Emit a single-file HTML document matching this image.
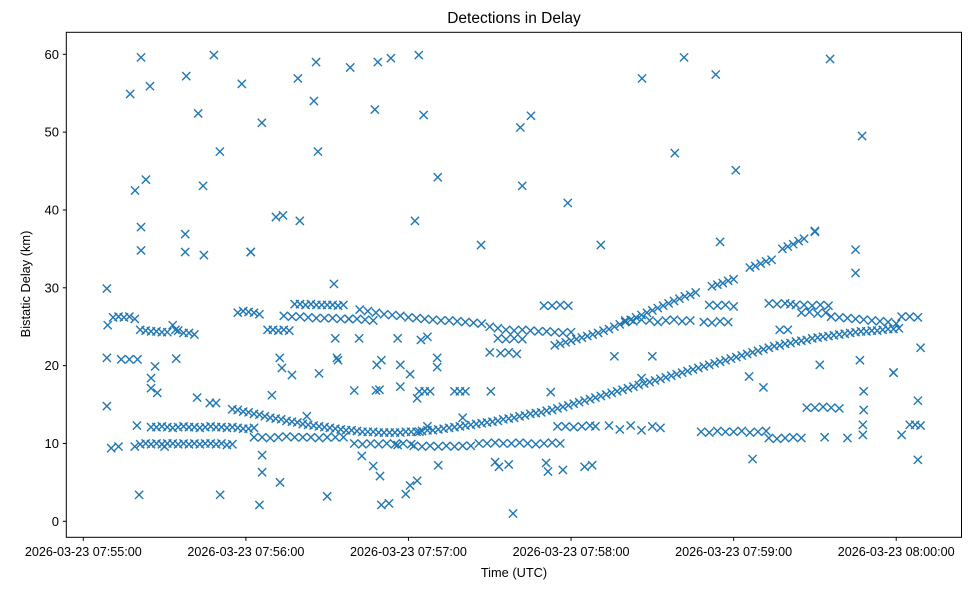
<!DOCTYPE html>
<html><head><meta charset="utf-8"><style>
body{margin:0;background:#fff;}
svg{display:block;font-family:"Liberation Sans","DejaVu Sans",sans-serif;}
</style></head><body>
<svg id="chart" width="978" height="590" viewBox="0 0 978 590" xmlns="http://www.w3.org/2000/svg">
<rect width="978" height="590" fill="#fff"/>
<text x="514" y="23" font-size="15.5" text-anchor="middle" fill="#000">Detections in Delay</text>
<text x="514" y="577" font-size="12.8" text-anchor="middle" fill="#000">Time (UTC)</text>
<text x="30" y="284" font-size="12.8" text-anchor="middle" fill="#000" transform="rotate(-90 30 284)">Bistatic Delay (km)</text>
<g id="marks"></g>
<g id="yticks"></g>
<g id="xticks"></g>
<rect x="66.3" y="32.3" width="895.2" height="505" fill="none" stroke="#000" stroke-width="1"/>
</svg>
<script>
// seconds after 07:55:00, delay in km
const lowerTrackT=[55,57,59,61,63,65,67,69,71,73,75,77,79,81,83,85,87,89,91,93,95,97,99,101,103,105,107,109,111,113,115,117,119,121,123,125,127,129,131,133,135,137,139,141,143,145,147,149,151,153,155,157,159,161,163,165,167,169,171,173,175,177,179,181,183,185,187,189,191,193,195,197,199,201,203,205,207,209,211,213,215,217,219,221,223,225,227,229,231,233,235,237,239,241,243,245,247,249,251,253,255,257,259,261,263,265,267,269,271,273,275,277,279,281,283,285,287,289,291,293,295,297,299,301];
const lowerTrackD=[14.4,14.3,14.1,14.0,13.8,13.7,13.5,13.3,13.2,13.1,12.9,12.8,12.7,12.5,12.4,12.3,12.2,12.1,12.0,11.9,11.8,11.7,11.7,11.6,11.5,11.5,11.5,11.4,11.4,11.4,11.4,11.4,11.5,11.5,11.5,11.6,11.7,11.7,11.8,11.9,12.0,12.1,12.2,12.3,12.4,12.5,12.6,12.7,12.8,12.9,13.1,13.2,13.3,13.5,13.6,13.8,13.9,14.0,14.2,14.3,14.5,14.7,14.9,15.1,15.3,15.5,15.7,15.9,16.1,16.3,16.5,16.7,16.9,17.1,17.3,17.5,17.7,17.9,18.1,18.3,18.5,18.7,18.9,19.1,19.3,19.5,19.7,19.9,20.1,20.3,20.5,20.7,20.9,21.1,21.3,21.5,21.7,21.9,22.1,22.3,22.5,22.6,22.8,22.9,23.1,23.2,23.3,23.5,23.6,23.7,23.8,23.9,24.0,24.1,24.2,24.3,24.4,24.4,24.5,24.5,24.6,24.7,24.7,24.8];
const risingTrackT=[174,176,178,180,182,184,186,188,190,192,194,196,198,200,202,204,206,208,210,212,214,216,218,220,222,224,226,232,234,236,238,240,246,248,250,252,254,258,260,262,264,266,270];
const risingTrackD=[22.6,22.8,23.0,23.2,23.4,23.6,23.8,24.0,24.2,24.5,24.7,25.0,25.3,25.6,25.9,26.2,26.5,26.8,27.1,27.4,27.7,28.0,28.3,28.6,28.9,29.1,29.4,30.2,30.4,30.6,30.9,31.1,32.6,32.8,33.1,33.4,33.6,35.0,35.3,35.6,36.0,36.3,37.2];
const upperBandT=[11,13,15,17,19,21,23,25,27,29,31,33,35,37,39,41,57,59,61,63,65,68,70,72,74,76,78,80,82,84,86,88,90,92,94,96,74,77,80,83,86,89,92,95,98,102,105,108,111,114,117,120,123,126,129,132,135,138,141,144,147,98,101,104,107,150,153,156,159,162,165,168,171,174,177,180,153,156,159,162,150,154,157,160,170,173,176,179,200,203,206,209,212,215,218,221,224,231,234,237,240,229,232,235,238,253,256,259,261,263,266,269,272,275,265,268,271,274,276,279,282,285,288,291,294,297,300,302,305,308,257,260];
const upperBandD=[26.2,26.3,26.2,26.3,26.0,24.6,24.5,24.4,24.4,24.3,24.3,25.2,24.5,24.2,24.2,24.0,26.8,27.0,26.9,26.8,26.6,24.6,24.6,24.5,24.6,24.5,27.9,27.9,27.8,27.9,27.8,27.8,27.8,27.8,27.7,27.8,26.4,26.3,26.3,26.2,26.1,26.1,26.1,26.0,26.0,27.2,27.0,26.8,26.6,26.5,26.4,26.2,26.1,26.0,25.9,25.8,25.8,25.7,25.6,25.5,25.4,26.0,26.0,25.9,25.8,25.0,24.8,24.6,24.5,24.6,24.5,24.4,24.4,24.3,24.2,24.3,23.5,23.4,23.5,23.4,21.7,21.6,21.7,21.5,27.7,27.7,27.8,27.7,25.8,25.7,25.9,25.8,25.6,25.8,25.9,25.7,25.8,27.8,27.7,27.8,27.6,25.6,25.5,25.7,25.6,28.0,27.9,28.0,27.9,27.8,27.8,27.7,27.8,27.7,26.8,26.9,26.7,26.8,26.3,26.2,26.1,26.0,25.9,25.8,25.7,25.6,25.4,26.3,26.3,26.2,24.6,24.6];
const lowerRowsT=[25,27,29,31,33,35,37,39,41,43,45,47,49,51,53,55,57,59,61,63,21,23,25,27,29,31,33,35,37,39,41,43,45,47,49,51,53,55,63,66,69,72,75,78,81,84,87,90,93,96,100,103,106,109,112,115,118,121,124,127,122,125,128,131,134,137,140,143,146,149,152,155,158,161,164,167,170,173,176,175,178,181,184,187,189,194,198,202,206,210,213,228,231,234,237,240,243,246,249,252,253,256,259,262,265,267,270,273,276,279,305,307,309,124,126,128,137,139,141,100,108];
const lowerRowsD=[12.1,12.1,12.2,12.1,12.0,12.1,12.2,12.1,12.1,12.0,12.1,12.2,12.1,12.1,12.0,12.1,12.0,11.9,11.9,12.0,9.9,10.0,9.9,10.0,9.9,10.0,10.0,9.9,10.0,9.9,10.0,9.9,10.0,10.0,9.9,10.0,9.8,9.9,10.8,10.8,10.7,10.8,10.9,10.8,10.8,10.8,10.7,10.8,10.8,10.8,10.0,9.9,10.0,9.9,10.0,9.9,10.0,9.9,11.5,12.2,9.7,9.6,9.7,9.6,9.7,9.6,9.7,9.7,10.0,10.0,10.1,10.0,10.0,10.1,10.0,9.9,10.0,10.1,10.0,12.2,12.2,12.1,12.2,12.3,12.2,12.3,11.8,12.3,11.7,12.2,12.0,11.5,11.4,11.6,11.5,11.5,11.6,11.4,11.5,11.6,10.7,10.6,10.7,10.8,10.7,14.6,14.6,14.7,14.6,14.5,12.4,12.4,12.3,16.7,16.7,16.7,16.7,16.7,16.7,16.8,16.8];
const outlierT=[8.7,17.3,19.1,21.3,21.3,21.3,23.1,24.6,38,37.6,37.6,42.4,44.2,44.5,48.2,50.4,58.5,61.8,65.9,71.1,73.7,79.2,85.1,85.9,86.6,79.9,98.5,107.6,108.7,113.5,123.8,125.6,130.8,122.4,146.8,161.3,162,165.2,178.8,191,206.2,221.7,233.4,240.8,218.3,235,275.6,287.4,285,285,270,92.5,8.7,25,26.5,25,27.3,34.3,42,46.7,49,69.6,72.5,73.3,77,87,93.6,108.3,110,109.3,117,117,120.6,123.2,130.6,130.6,8.7,10.3,20.6,19.8,50.5,65,66,66,72.6,90,102.8,107,109.5,110,112.8,119,120.6,123.2,116,131,152,158.6,153.4,157,170.8,171.5,177,185,187.8,247,308,308,309,299,302,288,206,196,210,150.4,172.5,245.7,251,271.8,286.6,288,299,273.6,282,287.7,287.7,82.5,140,93,101.8,116,124.6,127,94,9,14,17,20,61.8,19,13,30,34];
const outlierD=[29.9,54.9,42.5,59.6,37.8,34.8,43.9,55.9,57.2,36.9,34.6,52.4,43.1,34.2,59.9,47.5,56.2,34.6,51.2,39.1,39.3,56.9,54.0,59.0,47.5,38.6,58.3,52.9,59.0,59.5,59.9,52.2,44.2,38.6,35.5,50.6,43.1,52.1,40.9,35.5,56.9,59.6,57.4,45.1,47.3,35.9,59.4,49.5,34.9,31.9,37.3,30.5,21.0,18.4,19.9,17.1,16.5,20.9,15.9,15.2,15.2,16.2,21.0,19.7,18.8,19.0,21.0,20.1,20.7,16.9,17.3,20.1,18.9,15.8,21.0,19.8,14.8,9.4,3.4,12.3,3.4,2.1,8.5,6.3,5.0,3.2,8.4,7.1,5.8,2.1,2.3,3.5,4.6,5.2,9.8,7.2,7.6,1.0,7.0,7.3,7.5,6.4,6.6,7.0,7.2,8.0,7.9,15.5,22.3,19.1,11.1,14.3,18.4,21.2,21.2,16.7,16.6,18.6,17.2,20.1,20.7,16.7,19.1,10.8,10.7,11.1,12.4,13.5,13.3,23.5,23.5,23.5,23.3,23.7,20.7,25.2,20.8,20.8,20.8,34.6,9.6,9.6,9.6,24.6];

const xTickSecs=[0,60,120,180,240,300];
const xTickLabels=["2026-03-23 07:55:00","2026-03-23 07:56:00","2026-03-23 07:57:00","2026-03-23 07:58:00","2026-03-23 07:59:00","2026-03-23 08:00:00"];
const yTickVals=[0,10,20,30,40,50,60];

const NS="http://www.w3.org/2000/svg";
function xScale(t){return 83.3+t*(812.9/300);}
function yScale(d){return 521.3-d*(467/60);}
const marks=document.getElementById('marks');
function drawSet(ts,ds){
  for(let i=0;i<ts.length;i++){
    const x=xScale(ts[i]),y=yScale(ds[i]),r=4.1;
    const p=document.createElementNS(NS,'path');
    p.setAttribute('d',`M${x-r},${y-r}L${x+r},${y+r}M${x-r},${y+r}L${x+r},${y-r}`);
    p.setAttribute('stroke','#1f77b4');p.setAttribute('stroke-width','1.4');p.setAttribute('fill','none');
    
    
    marks.appendChild(p);
  }
}
drawSet(lowerTrackT,lowerTrackD);
drawSet(risingTrackT,risingTrackD);
drawSet(upperBandT,upperBandD);
drawSet(lowerRowsT,lowerRowsD);
drawSet(outlierT,outlierD);

const yg=document.getElementById('yticks');
yTickVals.forEach(v=>{
  const y=yScale(v);
  const l=document.createElementNS(NS,'line');
  l.setAttribute('x1',62.8);l.setAttribute('x2',66.3);l.setAttribute('y1',y);l.setAttribute('y2',y);l.setAttribute('stroke','#000');
  
  
  yg.appendChild(l);
  const t=document.createElementNS(NS,'text');
  t.setAttribute('x',59);t.setAttribute('y',y+4.6);t.setAttribute('font-size','13');t.setAttribute('text-anchor','end');
  t.textContent=v;
  
  
  yg.appendChild(t);
});
const xg=document.getElementById('xticks');
xTickSecs.forEach((s,i)=>{
  const x=xScale(s);
  const l=document.createElementNS(NS,'line');
  l.setAttribute('x1',x);l.setAttribute('x2',x);l.setAttribute('y1',537.3);l.setAttribute('y2',540.8);l.setAttribute('stroke','#000');
  
  
  xg.appendChild(l);
  const t=document.createElementNS(NS,'text');
  t.setAttribute('x',x);t.setAttribute('y',556);t.setAttribute('font-size','12.6');t.setAttribute('text-anchor','middle');
  t.textContent=xTickLabels[i];
  
  
  xg.appendChild(t);
});
</script>
</body></html>
